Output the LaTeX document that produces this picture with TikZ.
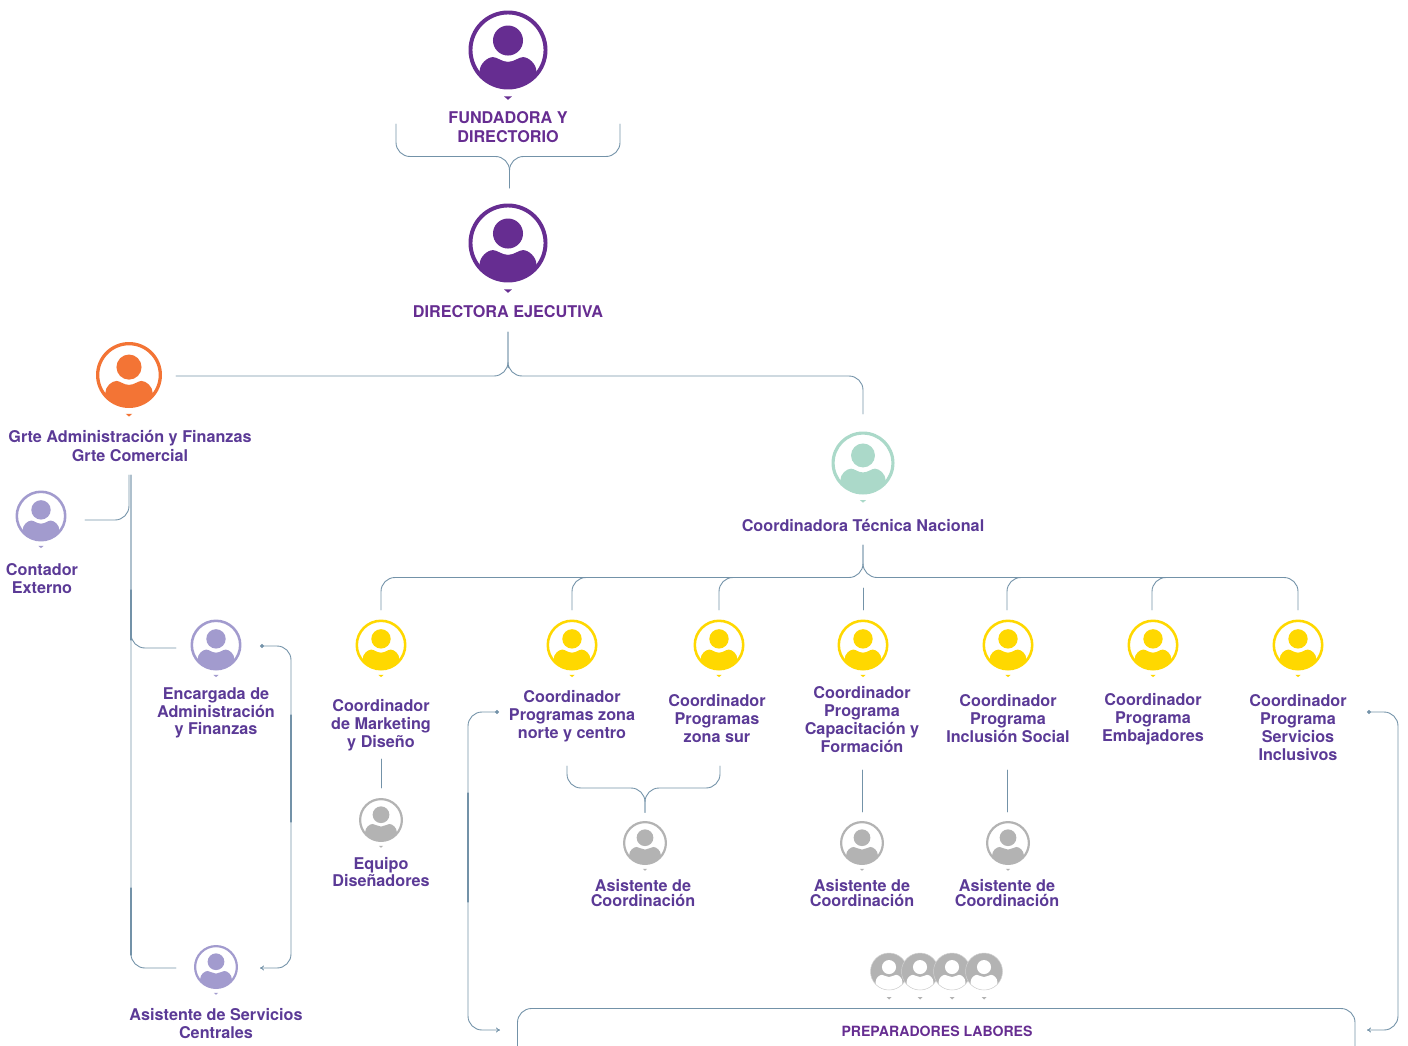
\documentclass[tikz,border=0pt]{standalone}
\usepackage{fontspec}
\setmainfont{TeX Gyre Heros}
\usetikzlibrary{arrows.meta}
\definecolor{moradofuerte}{HTML}{662D91}
\definecolor{moradotexto}{HTML}{5B3A96}
\definecolor{naranja}{HTML}{F37435}
\definecolor{lavanda}{HTML}{A29BCE}
\definecolor{menta}{HTML}{ABD9C9}
\definecolor{amarillo}{HTML}{FFD800}
\definecolor{gris}{HTML}{B3B3B3}
\definecolor{linea}{HTML}{7392A8}
\newcommand{\avatarbody}[2]{%
  \begin{scope}[shift={(path picture bounding box.center)},x=#2pt,y=#2pt]
    \fill[#1] (0,0.24) circle[radius=0.38];
    \fill[#1] (-0.72,-1)--(-0.72,-0.55) .. controls (-0.72,-0.35) and (-0.52,-0.18) .. (-0.38,-0.18)
      .. controls (-0.27,-0.18) and (-0.16,-0.3) .. (0,-0.3)
      .. controls (0.16,-0.3) and (0.27,-0.18) .. (0.38,-0.18)
      .. controls (0.52,-0.18) and (0.72,-0.35) .. (0.72,-0.55)--(0.72,-1)--cycle;
  \end{scope}}
\begin{document}
\begin{tikzpicture}[line join=round, line cap=round, x=1pt, y=-1pt,
    avatar/.style 2 args={circle, draw=#1, fill=white, inner sep=0pt, line width={#2*0.1pt},
      minimum size={#2*1.9pt}, path picture={\avatarbody{#1}{#2}}},
    crowdface/.style={circle, draw=gris!60, fill=gris, inner sep=0pt, line width=0.5pt,
      minimum size=37pt, path picture={\avatarbody{white}{18.5}}},
    lbl/.style={font=\fontsize{16.2}{18}\selectfont\bfseries, text=moradotexto, align=center, inner sep=0pt},
    lbltop/.style={lbl, text=moradofuerte, font=\fontsize{16.2}{19}\selectfont\bfseries},
    lbltight/.style={lbl, font=\fontsize{16.2}{15}\selectfont\bfseries},
    link/.style={draw=linea, line width=0.9pt, rounded corners=14pt},
    linkfuerte/.style={draw=linea, line width=1.2pt},
    linkarrow/.style={link, {Circle[length=4pt]}-{To[length=4pt,width=5pt]}}
    ]
    \useasboundingbox (0,0) rectangle (1408,1046);
    \foreach \name/\x/\y/\col/\r in {fund/508/50/moradofuerte/39.5, dir/508/243/moradofuerte/39.5,
        grte/129/375/naranja/33, conta/41/516/lavanda/25.5, enca/216/645/lavanda/25.5,
        serv/216/967/lavanda/22, tecn/863/463/menta/31.5,
        mark/381/645/amarillo/25.5, norte/572/645/amarillo/25.5, sur/719/645/amarillo/25.5,
        capa/863/645/amarillo/25.5, incl/1008/645/amarillo/25.5, emba/1153/645/amarillo/25.5,
        inse/1298/645/amarillo/25.5,
        equi/381/820/gris/22, asia/645/843/gris/22, asib/862/843/gris/22, asic/1008/843/gris/22}
    {
      \node[avatar={\col}{\r}] (\name) at (\x,\y) {};
      \fill[\col] (\name.south) ++(-0.1*\r,0.175*\r) -- ++(0.2*\r,0) -- ++(-0.1*\r,0.085*\r) -- cycle;
    }
    %Los cuatro preparadores
    \foreach \name/\x in {pa/889, pb/920, pc/952, pd/984}
    {
      \node[crowdface] (\name) at (\x,971.5) {};
      \fill[gris] (\x-2.5,997) -- ++(5,0) -- ++(-2.5,2.5) -- cycle;
    }
    \foreach \name/\x/\y/\txt in {fundl/508/127/{FUNDADORA Y\\DIRECTORIO}, dirl/508/312/{DIRECTORA EJECUTIVA}}
    \node[lbltop] (\name) at (\x,\y) {\txt};
    \node[lbltop, text=moradotexto] (grtel) at (130,446) {Grte Administración y Finanzas\\Grte Comercial};
    \foreach \name/\x/\y/\txt in {contal/42/579/{Contador\\Externo},
        servl/216/1024/{Asistente de Servicios\\Centrales}, tecnl/863/525.5/{Coordinadora Técnica Nacional},
        markl/381/725/{Coordinador\\de Marketing\\y Diseño}, nortel/572/716/{Coordinador\\Programas zona\\norte y centro},
        surl/717/718.5/{Coordinador\\Programas\\zona sur}, capal/862/719.5/{Coordinador\\Programa\\Capacitación y\\Formación},
        incll/1008/718.5/{Coordinador\\Programa\\Inclusión Social}, embal/1153/719/{Coordinador\\Programa\\Embajadores},
        insel/1298/727.5/{Coordinador\\Programa\\Servicios\\Inclusivos}}
    \node[lbl] (\name) at (\x,\y) {\txt};
    \node[lbl, font=\fontsize{16.2}{17.5}\selectfont\bfseries] (encal) at (216,713) {Encargada de\\Administración\\y Finanzas};
    \foreach \name/\x/\y/\txt in {equil/381/872/{Equipo\\Diseñadores}, asial/643/893.5/{Asistente de\\Coordinación},
        asibl/862/893.5/{Asistente de\\Coordinación}, asicl/1007/893.5/{Asistente de\\Coordinación}}
    \node[lbltight] (\name) at (\x,\y) {\txt};
    \node[lbl, text=moradofuerte, font=\fontsize{14.1}{16}\selectfont\bfseries] (prepl) at (937,1031) {PREPARADORES LABORES};
    \path
    (396,124) coordinate (fundizq)
    (620,124) coordinate (fundder)
    (509.5,156.5) coordinate (fundcruce)
    (509.5,188) coordinate (dirarriba)
    (508,332) coordinate (dirabajo)
    (508,376) coordinate (dircruce)
    (176,376) coordinate (grtefin)
    (863,414) coordinate (tecnarriba)
    (131,475) coordinate (grteabajo)
    (129,475) coordinate (grteabajob)
    (85,520) coordinate (contafin)
    (176,648) coordinate (encafin)
    (176,968) coordinate (servfin)
    (260,646) coordinate (encader)
    (260,968) coordinate (servder)
    (863,545) coordinate (tecnabajo)
    (863,577.5) coordinate (tecncruce)
    (645,788) coordinate (asiacruce)
    (645,812.5) coordinate (asiaarriba)
    (499,712) coordinate (prepa)
    (500,1030) coordinate (prepb)
    (1367,712) coordinate (prepc)
    (1367,1030) coordinate (prepd);
    \draw[link] (fundizq) |- (fundcruce) -- (dirarriba);
    \draw[link] (fundder) |- (fundcruce) -- (dirarriba);
    \draw[link] (dirabajo) |- (grtefin);
    \draw[link] (dirabajo) |- (dircruce) -| (tecnarriba);
    \draw[link] (grteabajob) |- (contafin);
    \draw[link] (grteabajo) |- (encafin);
    \draw[link] (grteabajo) |- (servfin);
    \draw[linkarrow] (encader) -- (291,646) -- (291,968) -- (servder);
    \draw[link] (tecnabajo) |- (381,577.5) -- (381,610);
    \draw[link] (tecnabajo) |- (1298,577.5) -- (1298,610);
    \foreach \x in {572,719,1007,1152}
    \draw[link] (\x,610) |- (\x+60,577.5);
    \draw[link] (863,588) -- (863,610);
    \draw[link] (381,759) -- (381,788);
    \draw[link] (567,766) |- (asiacruce) -- (asiaarriba);
    \draw[link] (720,766) |- (asiacruce) -- (asiaarriba);
    \draw[link] (862,770) -- (862,812);
    \draw[link] (1007,770) -- (1007,812);
    \draw[linkarrow] (prepa) -- (468,712) -- (468,1030) -- (prepb);
    \draw[linkarrow] (prepc) -- (1398,712) -- (1398,1030) -- (prepd);
    \draw[link] (517.5,1060) -- (517.5,1008.5) -- (1355,1008.5) -- (1355,1060);
    %Tramos mas gruesos
    \draw[linkfuerte] (291,715)--(291,822) (468,793)--(468,902) (131,590)--(131,640) (131,888)--(131,955);
\end{tikzpicture}
\end{document}
